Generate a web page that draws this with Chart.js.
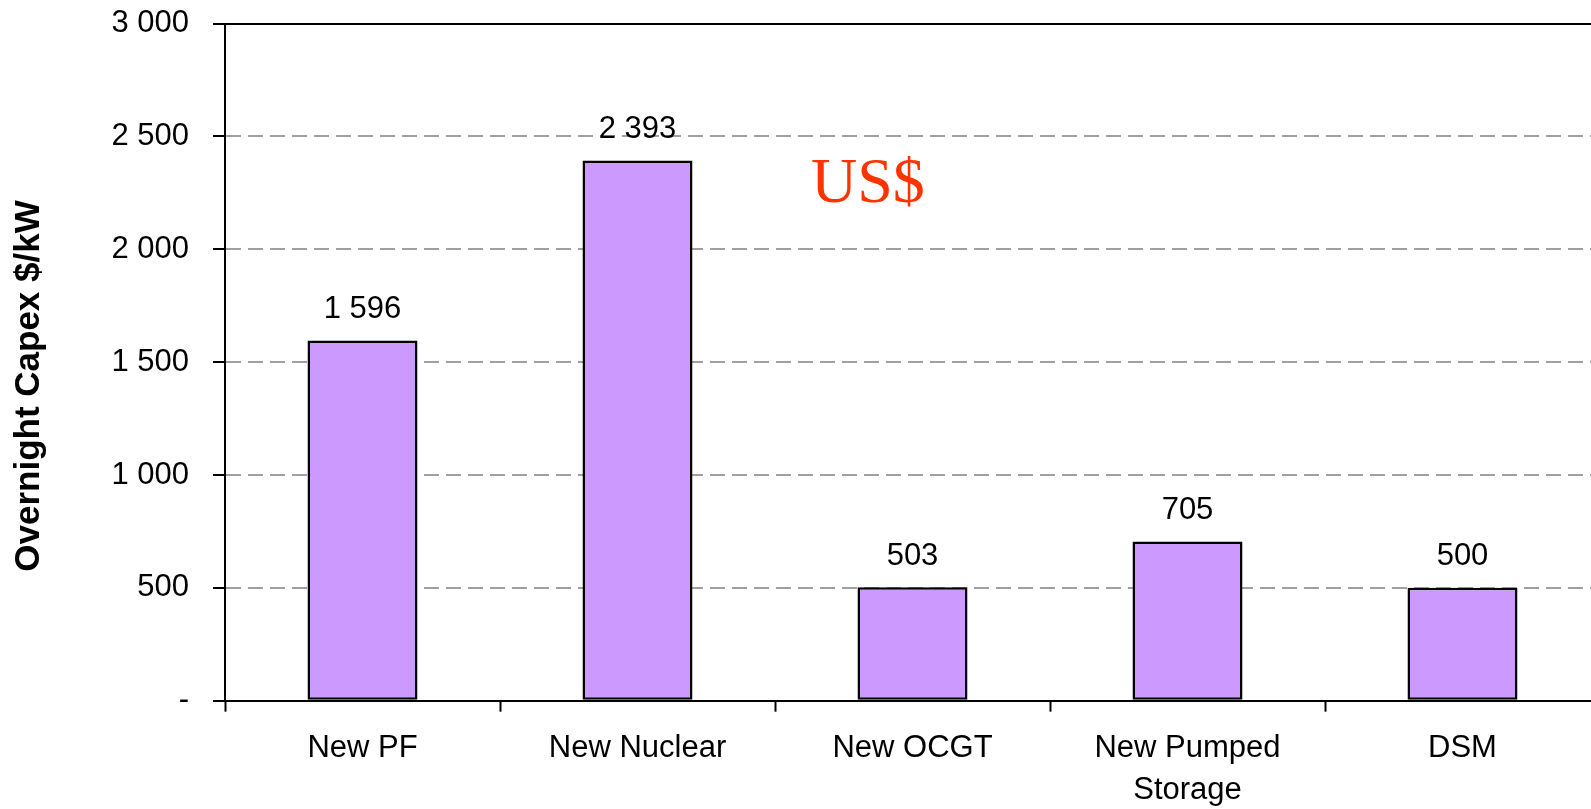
<!DOCTYPE html>
<html lang="en">
<head>
  <meta charset="UTF-8"/>
  <title>Overnight Capex</title>
  <style>
    html, body { margin: 0; padding: 0; background: #fff; overflow: hidden; }
    .wrap { width: 1600px; height: 847px; position: relative; margin-top: -19px; }
  </style>
  <script src="https://cdn.jsdelivr.net/npm/chart.js"></script>
</head>
<body>
  <div class="wrap"><canvas id="chart"></canvas></div>
  <script>
    // data
    const categories = ['New PF', 'New Nuclear', 'New OCGT', ['New Pumped', 'Storage'], 'DSM'];
    const capex = [1596, 2393, 503, 705, 500];
    const yTicks = [0, 500, 1000, 1500, 2000, 2500, 3000];
    const yTitle = 'Overnight Capex $/kW';
    const note = 'US$';

    // "1 596" style, zero shown as "-"
    function fmt(v) {
      if (v === 0) return '-';
      if (v < 1000) return String(v);
      return Math.floor(v / 1000) + ' ' + String(v % 1000).padStart(3, '0');
    }

    const sans = '"Liberation Sans", Arial, sans-serif';
    const shift = 19; // canvas is pulled up by this much

    // value labels, y title and the US$ note
    const extras = {
      id: 'extras',
      afterDatasetsDraw(chart) {
        const ctx = chart.ctx;
        const meta = chart.getDatasetMeta(0);
        ctx.save();
        ctx.fillStyle = '#000';
        ctx.font = '31px ' + sans;
        ctx.textAlign = 'center';
        ctx.textBaseline = 'middle';
        meta.data.forEach((bar, i) => {
          ctx.fillText(fmt(capex[i]), bar.x, bar.y - 31);
        });

        ctx.save();
        ctx.translate(29, 386 + shift);
        ctx.rotate(-Math.PI / 2);
        ctx.font = 'bold 35px ' + sans;
        ctx.fillText(yTitle, 0, 0);
        ctx.restore();

        ctx.fillStyle = '#ff3300';
        ctx.font = '64px "Liberation Serif", "Times New Roman", serif';
        ctx.textAlign = 'left';
        ctx.textBaseline = 'alphabetic';
        ctx.fillText(note, 811, 202 + shift);
        ctx.restore();
      }
    };

    new Chart(document.getElementById('chart'), {
      type: 'bar',
      data: {
        labels: categories,
        datasets: [{
          data: capex,
          backgroundColor: '#cc99ff',
          borderColor: '#000',
          borderWidth: 2.5,
          borderSkipped: false,
          barPercentage: 0.4,
          categoryPercentage: 1.0
        }]
      },
      options: {
        responsive: true, maintainAspectRatio: false, animation: false,
        layout: { padding: { top: 4, left: 0, right: 0, bottom: 0 } },
        plugins: { legend: { display: false }, tooltip: { enabled: false } },
        scales: {
          x: {
            grid: { offset: true, drawOnChartArea: false, drawTicks: true, tickLength: 11, tickColor: '#000', tickWidth: 2 },
            border: { display: true, color: '#000', width: 2 },
            ticks: {
              color: '#000', font: { size: 31, family: sans, lineHeight: 1.36 },
              padding: 16, maxRotation: 0, autoSkip: false
            }
          },
          xTop: {
            position: 'top',
            grid: { display: false, drawTicks: false },
            border: { display: true, color: '#000', width: 2 },
            ticks: { display: false }
          },
          y: {
            min: 0, max: 3000,
            afterBuildTicks(scale) { scale.ticks = yTicks.map(v => ({ value: v })); },
            afterFit(scale) { scale.width = 225; },
            grid: {
              color: '#a0a0a0', lineWidth: 2,
              drawTicks: true, tickLength: 12, tickColor: '#000', tickWidth: 2, tickBorderDash: []
            },
            border: { display: true, color: '#000', width: 2, dash: [15, 7] },
            ticks: {
              color: '#000', font: { size: 31, family: sans }, padding: 24,
              callback: v => fmt(v)
            }
          }
        }
      },
      plugins: [extras]
    });
  </script>
</body>
</html>
